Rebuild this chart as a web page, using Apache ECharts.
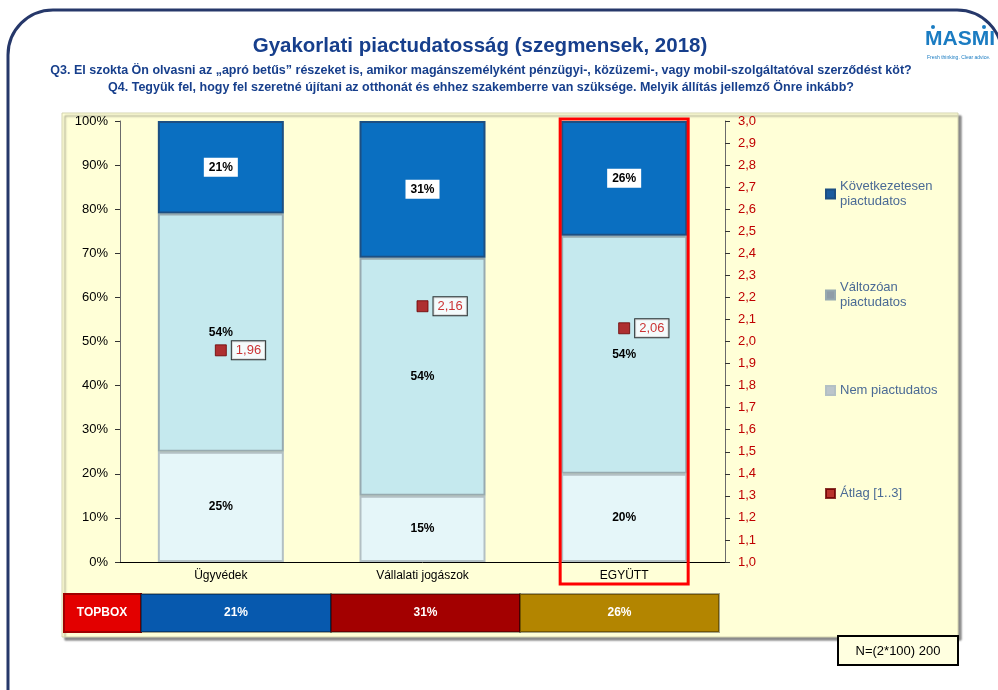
<!DOCTYPE html>
<html>
<head>
<meta charset="utf-8">
<script src="https://cdn.jsdelivr.net/npm/echarts@6/dist/echarts.min.js"></script>
<style>
  html, body { margin: 0; padding: 0; background: #fff; }
  #chart { width: 998px; height: 690px; }
</style>
</head>
<body>
<div id="chart"></div>
<script>
// adatok
const categories = ['Ügyvédek', 'Vállalati jogászok', 'EGYÜTT'];
const nemPiactudatos = [25, 15, 20];
const valtozoan = [54, 54, 54];
const kovetkezetesen = [21, 31, 26];
const atlag = [1.96, 2.16, 2.06];
const seriesNames = ['Következetesen piactudatos', 'Változóan piactudatos', 'Nem piactudatos', 'Átlag [1..3]'];
const topboxColors = ['#0759AE', '#A30000', '#B38500'];

const fmtComma = function (v, d) { return v.toFixed(d).replace('.', ','); };
const legendText = {
    'Következetesen piactudatos': 'Következetesen\npiactudatos',
    'Változóan piactudatos': 'Változóan\npiactudatos',
    'Nem piactudatos': 'Nem piactudatos',
    'Átlag [1..3]': 'Átlag [1..3]'
};
const legendColors = ['#1B5C9E', '#8F9DA8', '#BCC5CB', '#A80000'];
const legendTops = [174, 275, 378, 481];

const font = 'Arial, "Liberation Sans", sans-serif';

let chart = echarts.init(document.getElementById('chart'));

// topbox sor: a cellák szövege az adatból jön
let topboxCells = [
    { type: 'rect', shape: { x: 64, y: 594, width: 77, height: 38 },
      style: { fill: '#E30000', stroke: '#A00000', lineWidth: 2 }, z: 1 },
    { type: 'text', x: 102, y: 613, z: 2,
      style: { text: 'TOPBOX', fill: '#fff', font: 'bold 12px ' + font, textAlign: 'center', textVerticalAlign: 'middle' } }
];
const cellX = [141, 331, 520, 719];
kovetkezetesen.forEach(function (v, i) {
    topboxCells.push({ type: 'rect', shape: { x: cellX[i], y: 594, width: cellX[i + 1] - cellX[i], height: 38 },
        style: { fill: topboxColors[i], stroke: 'rgba(0,0,0,0.35)', lineWidth: 2 }, z: 1 });
    topboxCells.push({ type: 'text', x: (cellX[i] + cellX[i + 1]) / 2, y: 613, z: 2,
        style: { text: v + '%', fill: '#fff', font: 'bold 12px ' + font, textAlign: 'center', textVerticalAlign: 'middle' } });
});

let option = {
    backgroundColor: '#fff',
    animation: false,
    title: [
        {
            text: 'Gyakorlati piactudatosság (szegmensek, 2018)',
            left: 475, top: 31, textAlign: 'center',
            textStyle: { color: '#173F8C', fontSize: 20.5, fontWeight: 'bold', fontFamily: font }
        },
        {
            text: 'Q3. El szokta Ön olvasni az „apró betűs” részeket is, amikor magánszemélyként pénzügyi-, közüzemi-, vagy mobil-szolgáltatóval szerződést köt?\nQ4. Tegyük fel, hogy fel szeretné újítani az otthonát és ehhez szakemberre van szüksége. Melyik állítás jellemző Önre inkább?',
            left: 476, top: 57, textAlign: 'center',
            textStyle: { color: '#173F8C', fontSize: 12.5, lineHeight: 17, fontWeight: 'bold', fontFamily: font, align: 'center' }
        }
    ],
    legend: seriesNames.map(function (n, i) {
        return {
            data: [{ name: n, itemStyle: { color: legendColors[i] } }],
            orient: 'vertical', left: 820, top: legendTops[i],
            icon: 'rect', itemWidth: 9, itemHeight: 9, itemGap: 2,
            selectedMode: false,
            formatter: function (name) { return legendText[name]; },
            textStyle: { color: '#4A6A95', fontSize: 13, lineHeight: 15, fontFamily: font }
        };
    }),
    grid: { left: 120, top: 121, width: 605, height: 441 },
    xAxis: {
        type: 'category',
        data: categories,
        axisLine: { lineStyle: { color: '#000', width: 1 } },
        axisTick: { show: false },
        axisLabel: { color: '#000', fontSize: 12, fontFamily: font, margin: 8 }
    },
    yAxis: [
        {
            type: 'value', min: 0, max: 100, interval: 10,
            axisLine: { show: true, lineStyle: { color: '#6B6B6B' } },
            axisTick: { show: true, length: 5, lineStyle: { color: '#333' } },
            splitLine: { show: false },
            axisLabel: { color: '#000', fontSize: 13, fontFamily: font, margin: 12, formatter: '{value}%' }
        },
        {
            type: 'value', min: 1, max: 3, interval: 0.1, position: 'right',
            axisLine: { show: true, lineStyle: { color: '#6B6B6B' } },
            axisTick: { show: true, length: 5, lineStyle: { color: '#333' } },
            splitLine: { show: false },
            axisLabel: { color: '#C00000', fontSize: 13, fontFamily: font, margin: 13,
                formatter: function (v) { return fmtComma(v, 1); } }
        }
    ],
    series: [
        {
            name: 'Nem piactudatos', type: 'bar', stack: 'a', barWidth: 126,
            data: nemPiactudatos,
            itemStyle: { color: '#E5F6F9', borderColor: '#B3C0C4', borderWidth: 2 },
            label: { show: true, position: 'inside', formatter: '{c}%', color: '#000', fontWeight: 'bold', fontSize: 12, fontFamily: font }
        },
        {
            name: 'Változóan piactudatos', type: 'bar', stack: 'a',
            data: valtozoan,
            itemStyle: { color: '#C5E9EE', borderColor: '#97AAB0', borderWidth: 2 },
            label: { show: true, position: 'inside', formatter: '{c}%', color: '#000', fontWeight: 'bold', fontSize: 12, fontFamily: font }
        },
        {
            name: 'Következetesen piactudatos', type: 'bar', stack: 'a',
            data: kovetkezetesen,
            itemStyle: { color: '#0A6FC1', borderColor: '#1D4F82', borderWidth: 2 },
            label: { show: true, position: 'inside', formatter: '{c}%', color: '#000', fontWeight: 'bold', fontSize: 12, fontFamily: font,
                backgroundColor: '#fff', padding: [4, 5, 3, 5] }
        },
        {
            name: 'Átlag [1..3]', type: 'scatter', yAxisIndex: 1,
            data: atlag, symbol: 'rect', symbolSize: 11, z: 5,
            itemStyle: { color: '#A80000', borderColor: '#6A0000', borderWidth: 1 },
            label: { show: true, position: 'right', distance: 5,
                formatter: function (p) { return fmtComma(p.value, 2); },
                color: '#C00000', fontSize: 13, fontFamily: font,
                backgroundColor: '#fff', borderColor: '#000', borderWidth: 1, padding: [3, 4, 2, 4] }
        }
    ],
    graphic: [
        // külső lekerekített keret
        { type: 'rect', shape: { x: 8, y: 10, width: 994, height: 800, r: 45 },
          style: { fill: null, stroke: '#26386A', lineWidth: 3 }, z: -10 },
        // sárga panel
        { type: 'rect', shape: { x: 62, y: 113, width: 896, height: 524 },
          style: { fill: '#FFFFD7', stroke: '#D4D4B0', lineWidth: 1, shadowColor: 'rgba(0,0,0,0.45)', shadowOffsetX: 3, shadowOffsetY: 3, shadowBlur: 2 }, z: -9 },
        // MASMI logo
        { type: 'text', x: 925, y: 29, style: { text: 'MASMI', fill: '#1B7CC2', font: 'bold 21px ' + font } },
        { type: 'circle', shape: { cx: 933, cy: 27, r: 2 }, style: { fill: '#1B7CC2' } },
        { type: 'circle', shape: { cx: 984, cy: 27, r: 2 }, style: { fill: '#1B7CC2' } },
        { type: 'text', x: 927, y: 55, style: { text: 'Fresh thinking. Clear advice.', fill: '#1B7CC2', font: '5px ' + font } },
        // N doboz
        { type: 'rect', shape: { x: 838, y: 636, width: 120, height: 29 },
          style: { fill: '#FFFFE0', stroke: '#000', lineWidth: 2 }, z: 3 },
        { type: 'text', x: 898, y: 651, z: 4,
          style: { text: 'N=(2*100) 200', fill: '#000', font: '13px ' + font, textAlign: 'center', textVerticalAlign: 'middle' } }
    ].concat(topboxCells)
};

chart.setOption(option);

// piros kiemelés az EGYÜTT oszlop körül
let cx = chart.convertToPixel({ xAxisIndex: 0 }, 'EGYÜTT');
let yTop = chart.convertToPixel({ yAxisIndex: 0 }, 100);
chart.setOption({
    graphic: option.graphic.concat([
        { type: 'rect', shape: { x: cx - 64, y: yTop - 2, width: 128, height: 465 },
          style: { fill: null, stroke: '#FF0000', lineWidth: 3 }, z: 10 }
    ])
});
</script>
</body>
</html>
